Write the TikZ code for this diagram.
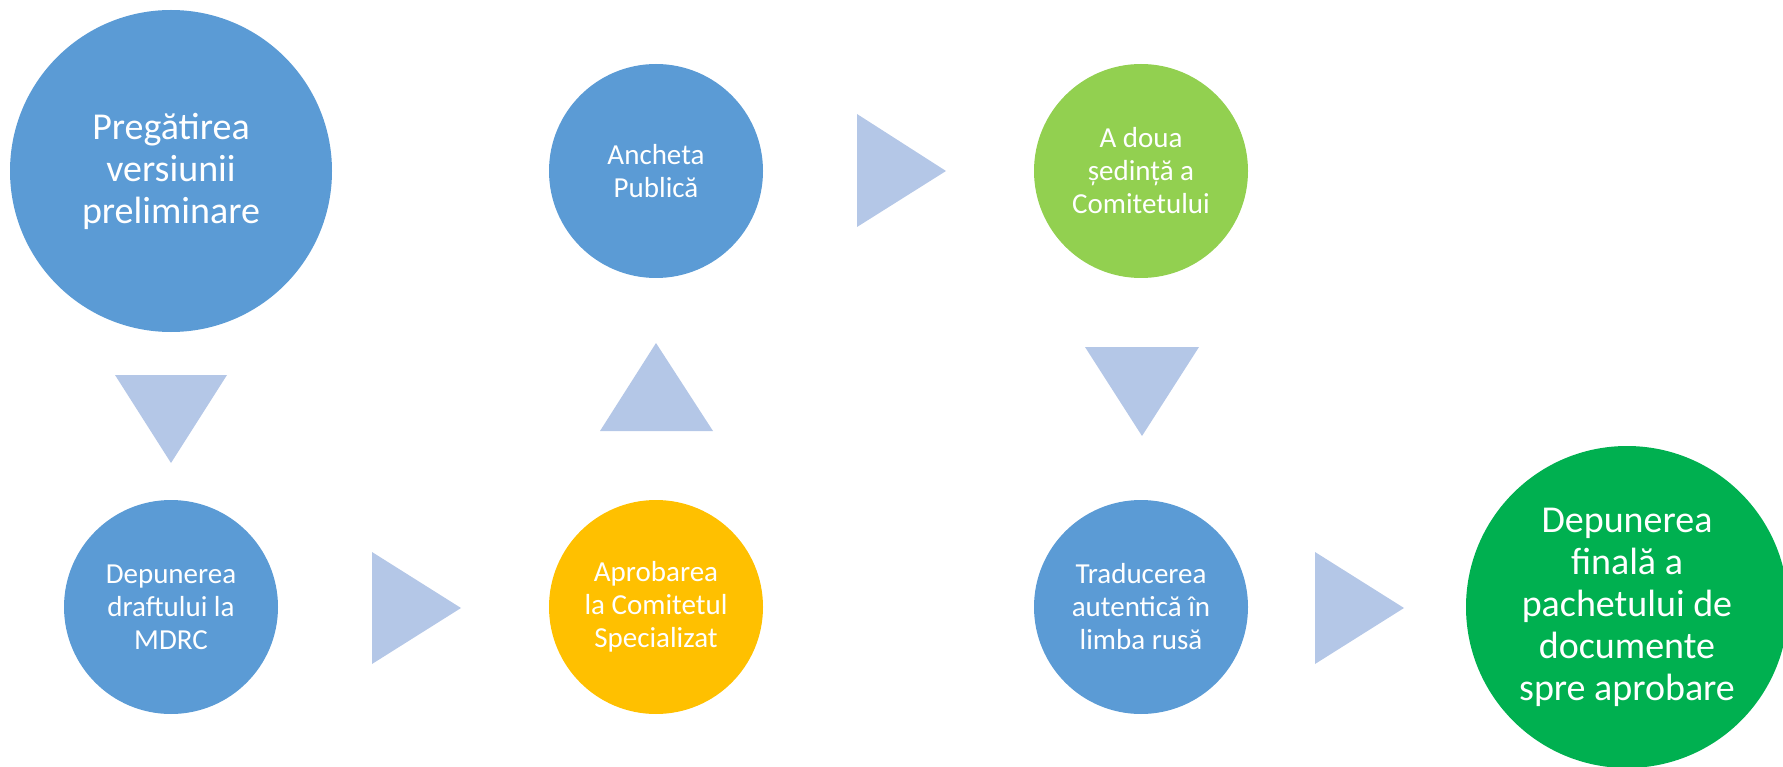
\documentclass[tikz,border=0pt]{standalone}
\usepackage{fontspec}
\setmainfont{Carlito}
\definecolor{cblue}{HTML}{5B9BD5}
\definecolor{ctri}{HTML}{B4C7E7}
\definecolor{corange}{HTML}{FFC000}
\definecolor{clgreen}{HTML}{92D050}
\definecolor{cgreen}{HTML}{00B050}
\begin{document}
\begin{tikzpicture}[x=1pt,y=-1pt,
  stage/.style={circle,inner sep=0pt,text=white,align=center,font=\fontsize{29}{33}\selectfont},
  small/.style={stage,minimum size=214pt},
  big/.style={stage,minimum size=322pt,font=\fontsize{38}{42}\selectfont},
  tri/.style={fill=ctri}]
\useasboundingbox (0,0) rectangle (1783,767);
\node[big,fill=cblue] (n1) at (171,171) {Pregătirea\\versiunii\\preliminare};
\node[small,fill=cblue] (n2) at (171,607) {Depunerea\\draftului la\\MDRC};
\node[small,fill=corange] (n3) at (656,607) {Aprobarea\\la Comitetul\\Specializat};
\node[small,fill=cblue] (n4) at (656,171) {Ancheta\\Publică};
\node[small,fill=clgreen] (n5) at (1141,171) {A doua\\ședință a\\Comitetului};
\node[small,fill=cblue] (n6) at (1141,607) {Traducerea\\autentică în\\limba rusă};
\begin{scope}
\clip (0,0) rectangle (1783,767);
\node[big,fill=cgreen] (n7) at (1627,607) {Depunerea\\finală a\\pachetului de\\documente\\spre aprobare};
\end{scope}
% triangles
\fill[tri] (115,375) -- (227,375) -- (171,463) -- cycle;
\fill[tri] (372,552) -- (461,608) -- (372,664) -- cycle;
\fill[tri] (600,431) -- (713,431) -- (656,343) -- cycle;
\fill[tri] (857,114) -- (946,171) -- (857,227) -- cycle;
\fill[tri] (1085,347) -- (1199,347) -- (1142,436) -- cycle;
\fill[tri] (1315,552) -- (1404,608) -- (1315,664) -- cycle;
\end{tikzpicture}
\end{document}
